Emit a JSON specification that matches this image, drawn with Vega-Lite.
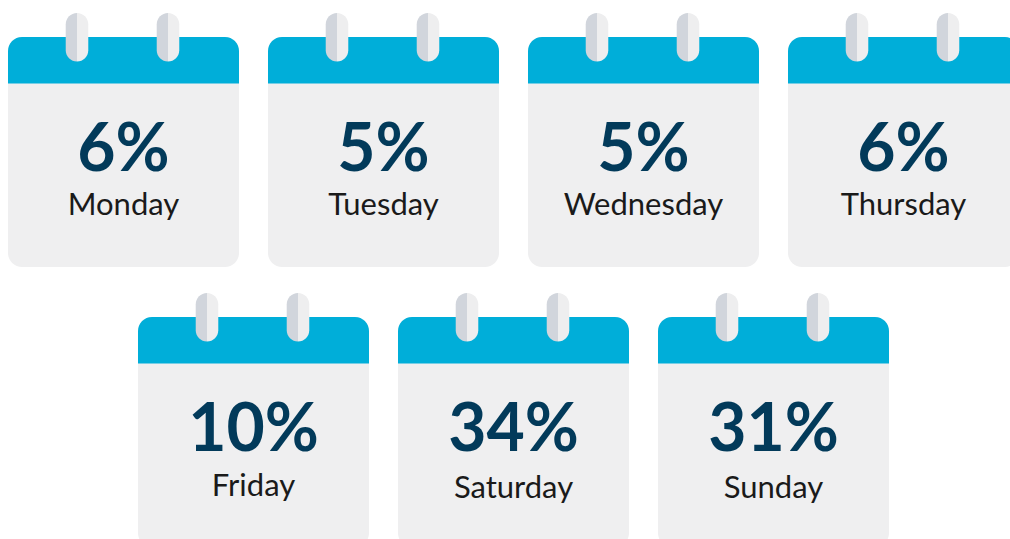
{"$schema":"https://vega.github.io/schema/vega-lite/v6.json","width":1010,"height":539,"autosize":{"type":"fit","contains":"padding"},"padding":0,"background":"#ffffff","view":{"stroke":null},"data":{"values":[{"day":"Monday","share":0.06,"block":"Monday to Thursday"},{"day":"Tuesday","share":0.05,"block":"Monday to Thursday"},{"day":"Wednesday","share":0.05,"block":"Monday to Thursday"},{"day":"Thursday","share":0.06,"block":"Monday to Thursday"},{"day":"Friday","share":0.10,"block":"Friday to Sunday"},{"day":"Saturday","share":0.34,"block":"Friday to Sunday"},{"day":"Sunday","share":0.31,"block":"Friday to Sunday"}]},"encoding":{"x":{"field":"day","type":"nominal","axis":null,"sort":["Monday","Friday","Tuesday","Saturday","Wednesday","Sunday","Thursday"],"scale":{"type":"point","padding":0,"range":[123.5,903.5]}},"y":{"field":"block","type":"nominal","axis":null,"sort":["Monday to Thursday","Friday to Sunday"],"scale":{"type":"point","padding":0,"range":[152,432]}}},"layer":[{"mark":{"type":"bar","width":231,"height":230,"cornerRadius":14,"fill":"#efeff0"}},{"mark":{"type":"bar","width":231,"height":46.5,"yOffset":-91.75,"cornerRadiusTopLeft":14,"cornerRadiusTopRight":14,"cornerRadiusBottomLeft":0,"cornerRadiusBottomRight":0,"fill":"#00aed9"}},{"mark":{"type":"point","filled":true,"opacity":1,"size":2352,"shape":"M0,-1 C-0.257,-1 -0.465,-0.792 -0.465,-0.535 L-0.465,0.535 C-0.465,0.792 -0.257,1 0,1 Z","xOffset":-46.5,"yOffset":-114.75,"fill":"#d1d5dc","stroke":null}},{"mark":{"type":"point","filled":true,"opacity":1,"size":2352,"shape":"M0,-1 C0.257,-1 0.465,-0.792 0.465,-0.535 L0.465,0.535 C0.465,0.792 0.257,1 0,1 Z","xOffset":-46.5,"yOffset":-114.75,"fill":"#eeeeef","stroke":null}},{"mark":{"type":"point","filled":true,"opacity":1,"size":2352,"shape":"M0,-1 C-0.257,-1 -0.465,-0.792 -0.465,-0.535 L-0.465,0.535 C-0.465,0.792 -0.257,1 0,1 Z","xOffset":44.5,"yOffset":-114.75,"fill":"#d1d5dc","stroke":null}},{"mark":{"type":"point","filled":true,"opacity":1,"size":2352,"shape":"M0,-1 C0.257,-1 0.465,-0.792 0.465,-0.535 L0.465,0.535 C0.465,0.792 0.257,1 0,1 Z","xOffset":44.5,"yOffset":-114.75,"fill":"#eeeeef","stroke":null}},{"mark":{"type":"text","font":"Lato","fontWeight":700,"fontSize":66,"color":"#023a5a","baseline":"alphabetic","align":"center","dy":19},"encoding":{"text":{"field":"share","type":"quantitative","format":".0%"}}},{"transform":[{"filter":"datum.block === 'Monday to Thursday'"}],"mark":{"type":"text","font":"Lato","fontWeight":400,"fontSize":31,"color":"#1a1a1a","baseline":"alphabetic","align":"center","dy":63},"encoding":{"text":{"field":"day","type":"nominal"}}},{"transform":[{"filter":"datum.day === 'Friday'"}],"mark":{"type":"text","font":"Lato","fontWeight":400,"fontSize":31,"color":"#1a1a1a","baseline":"alphabetic","align":"center","dy":64},"encoding":{"text":{"field":"day","type":"nominal"}}},{"transform":[{"filter":"datum.day === 'Saturday' || datum.day === 'Sunday'"}],"mark":{"type":"text","font":"Lato","fontWeight":400,"fontSize":31,"color":"#1a1a1a","baseline":"alphabetic","align":"center","dy":66},"encoding":{"text":{"field":"day","type":"nominal"}}}]}
